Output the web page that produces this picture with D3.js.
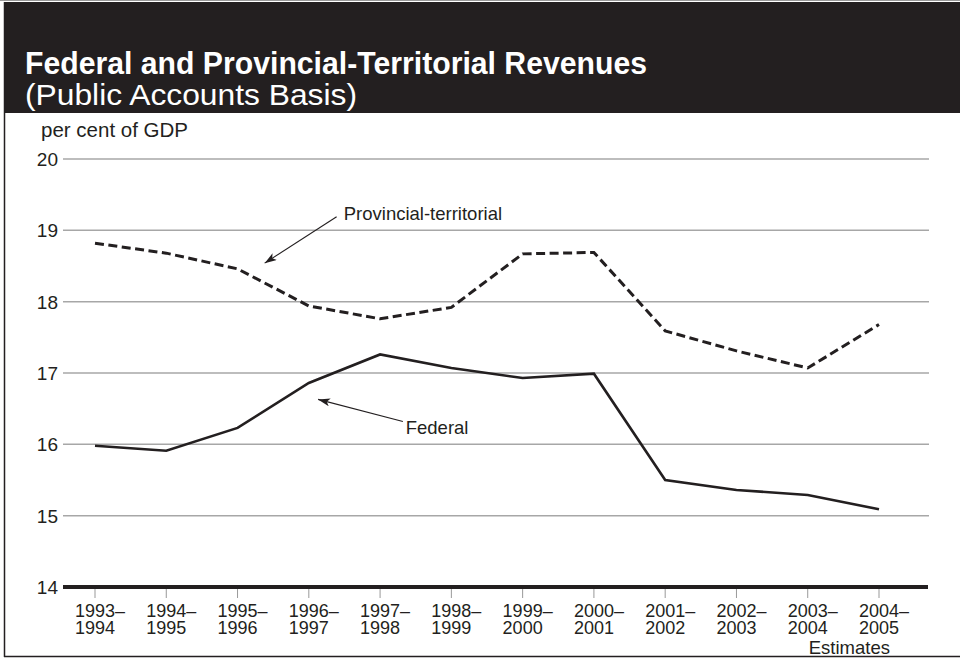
<!DOCTYPE html>
<html><head><meta charset="utf-8">
<script src="https://cdn.jsdelivr.net/npm/d3@7"></script>
<style>
html,body{margin:0;padding:0;background:#fff;}
svg{display:block;font-family:"Liberation Sans",Arial,Helvetica,sans-serif;}
</style></head>
<body>
<svg id="c" width="960" height="658"></svg>
<script>
const titleText = "Federal and Provincial-Territorial Revenues";
const subtitleText = "(Public Accounts Basis)";
const yAxisTitle = "per cent of GDP";
const yearStart = ["1993","1994","1995","1996","1997","1998","1999","2000","2001","2002","2003","2004"];
const yearEnd   = ["1994","1995","1996","1997","1998","1999","2000","2001","2002","2003","2004","2005"];
const yTicks = [14,15,16,17,18,19,20];
const provincial = [18.82,18.68,18.46,17.94,17.76,17.92,18.67,18.69,17.59,17.31,17.07,17.68];
const federal    = [15.98,15.91,16.23,16.86,17.26,17.07,16.93,16.99,15.50,15.36,15.29,15.09];
const estimatesNote = "Estimates";
// annotation anchors in data space: [index, value]
const provLabel = {text:"Provincial-territorial", at:[3.49,19.14], from:[3.39,19.19], to:[2.38,18.54]};
const fedLabel  = {text:"Federal", at:[4.36,16.15], from:[4.32,16.32], to:[3.13,16.63]};

const ink = "#231f20";
const svg = d3.select("#c");

// frame
svg.append("rect").attr("x",0).attr("y",0).attr("width",960).attr("height",1).attr("fill","#999");
svg.append("rect").attr("x",4).attr("y",2).attr("width",956).attr("height",111).attr("fill",ink);
svg.append("line").attr("x1",4.5).attr("x2",4.5).attr("y1",2).attr("y2",657).attr("stroke",ink).attr("stroke-width",1.5);
svg.append("line").attr("x1",4).attr("x2",960).attr("y1",656.5).attr("y2",656.5).attr("stroke",ink).attr("stroke-width",1.5);

svg.append("text").attr("x",25).attr("y",74).attr("fill","#fff")
  .attr("font-size",31).attr("font-weight","bold").text(titleText)
  .attr("textLength",622).attr("lengthAdjust","spacingAndGlyphs");
svg.append("text").attr("x",25).attr("y",105).attr("fill","#fff")
  .attr("font-size",30).text(subtitleText)
  .attr("textLength",332).attr("lengthAdjust","spacingAndGlyphs");

const x = d3.scaleLinear().domain([0, yearStart.length-1]).range([95, 879]);
const y = d3.scaleLinear().domain([14,20]).range([587, 159]);
const gridX0 = 63, gridX1 = 929;

// y axis title
svg.append("text").attr("x",41).attr("y",137).attr("font-size",20.5).attr("fill",ink).text(yAxisTitle);

// grid
svg.append("g").selectAll("line").data(yTicks.filter(d=>d>14)).join("line")
  .attr("x1",gridX0).attr("x2",gridX1).attr("y1",d=>y(d)).attr("y2",d=>y(d))
  .attr("stroke","#a7a7a7").attr("stroke-width",1.5);

// y labels
svg.append("g").selectAll("text").data(yTicks).join("text")
  .attr("x",58).attr("y",d=>y(d)).attr("dy","0.36em").attr("text-anchor","end")
  .attr("font-size",19).attr("fill",ink).text(d=>d);

// x axis ticks
svg.append("g").selectAll("line").data(yearStart).join("line")
  .attr("x1",(d,i)=>x(i)).attr("x2",(d,i)=>x(i)).attr("y1",587).attr("y2",598)
  .attr("stroke","#999").attr("stroke-width",1);
// baseline
svg.append("line").attr("x1",gridX0).attr("x2",928).attr("y1",y(14)).attr("y2",y(14))
  .attr("stroke",ink).attr("stroke-width",4);

// x labels (one text element per category, two lines)
const xl = svg.append("g").attr("font-size",18).attr("fill",ink);
const probe = xl.append("text").text(yearEnd[0]);
const yw = probe.node().getComputedTextLength();
probe.remove();
yearStart.forEach((s,i)=>{
  const t = xl.append("text").attr("x",x(i)-yw/2).attr("y",617);
  t.append("tspan").attr("x",x(i)-yw/2).attr("y",617).text(s+"–");
  t.append("tspan").attr("x",x(i)-yw/2).attr("y",634).text(yearEnd[i]);
});
xl.append("text").attr("x",x(10)+1).attr("y",654).attr("font-size",18.5).text(estimatesNote);

// lines
const line = d3.line().x((d,i)=>x(i)).y(d=>y(d));
svg.append("path").datum(provincial).attr("d",line).attr("fill","none")
  .attr("stroke",ink).attr("stroke-width",3).attr("stroke-dasharray","9,4.5");
svg.append("path").datum(federal).attr("d",line).attr("fill","none")
  .attr("stroke",ink).attr("stroke-width",2.6).attr("stroke-linejoin","miter");

// annotations
const defs = svg.append("defs");
defs.append("marker").attr("id","arr").attr("viewBox","0 0 12 8").attr("refX",12).attr("refY",4)
  .attr("markerWidth",12).attr("markerHeight",8).attr("markerUnits","userSpaceOnUse").attr("orient","auto")
  .append("path").attr("d","M0,0 L12,4 L0,8 L3,4 Z").attr("fill",ink);
[provLabel, fedLabel].forEach(a=>{
  svg.append("line").attr("x1",x(a.from[0])).attr("y1",y(a.from[1]))
    .attr("x2",x(a.to[0])).attr("y2",y(a.to[1])).attr("stroke",ink).attr("stroke-width",1.1)
    .attr("marker-end","url(#arr)");
  svg.append("text").attr("x",x(a.at[0])).attr("y",y(a.at[1])).attr("font-size",18.5).attr("fill",ink).text(a.text);
});
</script>
</body></html>
